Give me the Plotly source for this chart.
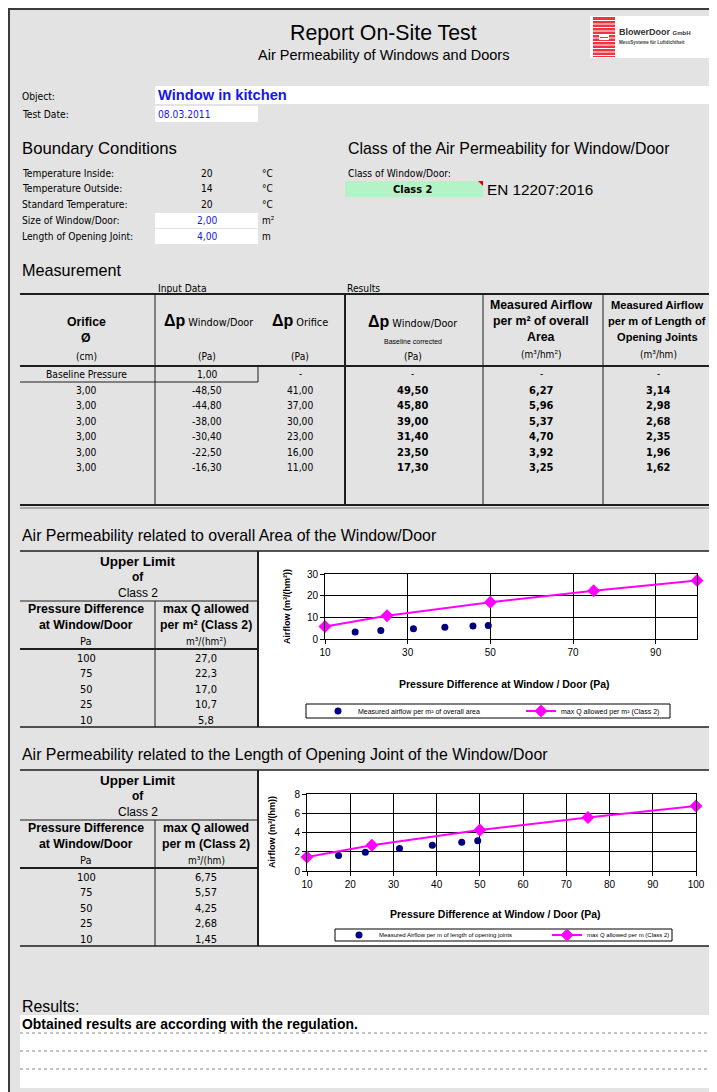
import plotly.graph_objects as go

# reference page size and the page offset of the figure inside the html body
PAGE_W, PAGE_H = 717, 1092
OFF = 8
W, H = PAGE_W - 2 * OFF, PAGE_H - OFF

# ---------------- data ----------------
boundary_labels = ["Temperature Inside:", "Temperature Outside:", "Standard Temperature:",
                   "Size of Window/Door:", "Length of Opening Joint:"]
boundary_values = ["20", "14", "20", "2,00", "4,00"]
boundary_units = ["°C", "°C", "°C", "m²", "m"]

orifice_cm = [3.00, 3.00, 3.00, 3.00, 3.00, 3.00]
dp_window = [-48.50, -44.80, -38.00, -30.40, -22.50, -16.30]
dp_orifice = [41.00, 37.00, 30.00, 23.00, 16.00, 11.00]
dp_corrected = [49.50, 45.80, 39.00, 31.40, 23.50, 17.30]
flow_per_area = [6.27, 5.96, 5.37, 4.70, 3.92, 3.25]
flow_per_length = [3.14, 2.98, 2.68, 2.35, 1.96, 1.62]
baseline_pressure = 1.00

limit_dp = [100, 75, 50, 25, 10]
limit_area = [27.0, 22.3, 17.0, 10.7, 5.8]
limit_length = [6.75, 5.57, 4.25, 2.68, 1.45]

x_ticks_area = [10, 30, 50, 70, 90]
y_ticks_area = [0, 10, 20, 30]
x_ticks_length = [10, 20, 30, 40, 50, 60, 70, 80, 90, 100]
y_ticks_length = [0, 2, 4, 6, 8]

# ---------------- styling helpers ----------------
NARROW = "'Liberation Sans Narrow', 'Arial Narrow', 'DejaVu Sans Condensed', 'Liberation Sans', sans-serif"
ARIAL = "'Liberation Sans', Arial, sans-serif"
NS = 10.2          # narrow text size
HS = 15.9          # heading size
BS = 12.3          # bold table header size
BG = "#e3e3e3"
LINE = "#1e1e1e"
BLUE = "#1515f0"
RIGHT = PAGE_W + 4

shapes = []
annos = []


def X(px):
    return (px - OFF) / W


def Y(py):
    return 1 - (py - OFF) / H


def rect(x0, y0, x1, y1, fill=None, line=None, lw=1, dash="solid"):
    shapes.append(dict(type="rect", xref="paper", yref="paper",
                       x0=X(x0), x1=X(x1), y0=Y(y1), y1=Y(y0),
                       fillcolor=fill if fill else "rgba(0,0,0,0)",
                       line=dict(color=line if line else "rgba(0,0,0,0)",
                                 width=lw if line else 0, dash=dash),
                       layer="below"))


def seg(x0, y0, x1, y1, color=LINE, w=1, dash="solid"):
    shapes.append(dict(type="line", xref="paper", yref="paper",
                       x0=X(x0), x1=X(x1), y0=Y(y0), y1=Y(y1),
                       line=dict(color=color, width=w, dash=dash), layer="below"))


def text(x, y, s, size=NS, font=NARROW, color="#000", anchor="left", bold=False, angle=0):
    annos.append(dict(xref="paper", yref="paper", x=X(x), y=Y(y),
                      text=f"<b>{s}</b>" if bold else s, showarrow=False,
                      xanchor=anchor, yanchor="middle", textangle=angle,
                      borderpad=0,
                      font=dict(size=size, family=font, color=color)))


def fmt(v, d=2):
    return f"{v:.{d}f}".replace(".", ",")


# ---------------- page ----------------
rect(8, 8, RIGHT, PAGE_H + 4, fill=BG)
seg(9, 8, 9, PAGE_H + 4, color="#3a3a3a", w=2)
seg(8, 9, RIGHT, 9, color="#3a3a3a", w=2)

# header
text(383, 33, "Report On-Site Test", size=21.3, font=ARIAL, anchor="center")
text(383, 55, "Air Permeability of Windows and Doors", size=14.5, font=ARIAL, anchor="center")

# logo
rect(590, 16, RIGHT, 58, fill="white")
rect(593, 17, 615, 57, fill="#ef3340")
for i in range(11):
    seg(593, 20.5 + i * 3.5, 615, 20.5 + i * 3.5, color="white", w=1)
rect(599, 35, 609, 40, fill="white")
seg(600, 37.5, 608, 37.5, color="#ef3340", w=1)
text(618, 32, "<b>BlowerDoor</b> <span style='font-size:6px'><b>GmbH</b></span>", size=9,
     font=ARIAL, color="#333")
text(618, 42, "<b>MessSysteme für Luftdichtheit</b>", size=4.5, font=ARIAL, color="#444")

# object / date
rect(155, 86, RIGHT, 104, fill="white")
rect(155, 106, 258, 122, fill="white")
text(21, 96, "Object:")
text(157, 95, "Window in kitchen", size=14.7, font=ARIAL, color=BLUE, bold=True)
text(21, 114, "Test Date:")
text(157, 114, "08.03.2011", color=BLUE)

# boundary conditions
text(21, 148, "Boundary Conditions", size=16.7, font=ARIAL)
rect(155, 213, 258, 228, fill="white")
rect(155, 229, 258, 244, fill="white")
for i, (lab, val, unit) in enumerate(zip(boundary_labels, boundary_values, boundary_units)):
    yy = 173 + i * 15.8
    text(21, yy, lab)
    text(207, yy, val, anchor="center", color=BLUE if i >= 3 else "#000")
    text(261, yy, unit, size=10)

# class
text(347, 148, "Class of the Air Permeability for Window/Door", size=HS, font=ARIAL)
text(347, 173, "Class of Window/Door:")
rect(345, 181, 483, 197, fill="#b3f3c6")
text(413, 189, "Class 2", size=11, anchor="center", bold=True)
shapes.append(dict(type="path", xref="paper", yref="paper",
                   path=f"M {X(478)} {Y(181)} L {X(483)} {Y(181)} L {X(483)} {Y(186)} Z",
                   fillcolor="#e00000", line=dict(width=0), layer="below"))
text(486, 189, "EN 12207:2016", size=15.3, font=ARIAL)

# ---------------- measurement table ----------------
text(21, 270, "Measurement", size=HS + 0.3, font=ARIAL)
text(157, 288, "Input Data")
text(346, 288, "Results")
seg(20, 294, RIGHT, 294, w=2)
seg(20, 366, RIGHT, 366, w=2)
seg(20, 505, RIGHT, 505, w=2)
seg(20, 508, RIGHT, 508, color="#777", w=1)
seg(155, 294, 155, 505, w=1)
seg(345, 294, 345, 505, w=2)
seg(483, 294, 483, 505, w=1)
seg(603, 294, 603, 505, w=1)
seg(20, 382, 258, 382, w=1)
seg(258, 366, 258, 382, w=1)

text(86, 322, "Orifice", size=BS, font=ARIAL, anchor="center", bold=True)
text(86, 338, "Ø", size=BS, font=ARIAL, anchor="center", bold=True)
text(86, 356, "(cm)", anchor="center")
dp = "<b><span style='font-size:16px;font-family:Liberation Sans'>Δp</span></b> "
text(208, 320, dp + "Window/Door", size=10.8, anchor="center")
text(300, 320, dp + "Orifice", size=10.8, anchor="center")
text(207, 356, "(Pa)", anchor="center")
text(300, 356, "(Pa)", anchor="center")
text(413, 322, dp + "Window/Door", size=10.8, anchor="center")
text(413, 341, "Baseline corrected", size=7, font=ARIAL, anchor="center")
text(413, 356, "(Pa)", anchor="center")
for j, s in enumerate(["Measured Airflow", "per m² of overall", "Area"]):
    text(541, 305 + j * 16, s, size=BS, font=ARIAL, anchor="center", bold=True)
text(541, 355, "(m³/hm²)", size=10, anchor="center")
for j, s in enumerate(["Measured Airflow", "per m of Length of", "Opening Joints"]):
    text(657, 305 + j * 16, s, size=11.1, font=ARIAL, anchor="center", bold=True)
text(658, 355, "(m³/hm)", size=10, anchor="center")

text(86, 374, "Baseline Pressure", anchor="center")
text(207, 374, fmt(baseline_pressure), anchor="center")
for cx in (300, 413, 541, 658):
    text(cx, 373, "-", size=10, anchor="center")

for i in range(len(dp_window)):
    yy = 390 + i * 15.5
    text(86, yy, fmt(orifice_cm[i]), anchor="center")
    text(207, yy, fmt(dp_window[i]), anchor="center")
    text(300, yy, fmt(dp_orifice[i]), anchor="center")
    text(413, yy, fmt(dp_corrected[i]), size=11, anchor="center", bold=True)
    text(541, yy, fmt(flow_per_area[i]), size=11, anchor="center", bold=True)
    text(658, yy, fmt(flow_per_length[i]), size=11, anchor="center", bold=True)


# ---------------- limit sections ----------------
def limit_section(top, title, unit_line2, unit_line3, values, dec):
    text(21, top - 16, title, size=HS, font=ARIAL)
    rect(258, top, RIGHT, top + 176, fill="white")
    seg(20, top, RIGHT, top, w=1.5)
    seg(20, top + 176, RIGHT, top + 176, w=1.5)
    seg(258, top, 258, top + 176, w=2)
    seg(20, top + 50, 258, top + 50, w=1)
    seg(20, top + 98, 258, top + 98, w=2)
    seg(155, top + 50, 155, top + 176, w=1)
    text(138, top + 10, "Upper Limit", size=13.5, font=ARIAL, anchor="center", bold=True)
    text(138, top + 26, "of", size=12, font=ARIAL, anchor="center", bold=True)
    text(138, top + 42, "Class 2", size=12, font=ARIAL, anchor="center")
    text(86, top + 58, "Pressure Difference", size=BS, font=ARIAL, anchor="center", bold=True)
    text(86, top + 74, "at Window/Door", size=BS, font=ARIAL, anchor="center", bold=True)
    text(86, top + 90, "Pa", size=11, anchor="center")
    text(206, top + 58, "max Q allowed", size=BS, font=ARIAL, anchor="center", bold=True)
    text(206, top + 74, unit_line2, size=BS, font=ARIAL, anchor="center", bold=True)
    text(206, top + 90, unit_line3, size=10, anchor="center")
    for i, (p, v) in enumerate(zip(limit_dp, values)):
        yy = top + 107 + i * 15.5
        text(86, yy, str(p), size=11, anchor="center")
        text(206, yy, fmt(v, dec), size=11, anchor="center")


limit_section(551, "Air Permeability related to overall Area of the Window/Door",
              "per m² (Class 2)", "m³/(hm²)", limit_area, 1)
limit_section(770, "Air Permeability related to the Length of Opening Joint of the Window/Door",
              "per m (Class 2)", "m³/(hm)", limit_length, 2)

# axis titles
text(504, 684, "Pressure Difference at Window / Door (Pa)", size=10.5, font=ARIAL, anchor="center", bold=True)
text(287, 607, "Airflow (m³/(hm²))", size=9, font=ARIAL, anchor="center", bold=True, angle=-90)
text(495, 914, "Pressure Difference at Window / Door (Pa)", size=10.5, font=ARIAL, anchor="center", bold=True)
text(272, 832, "Airflow (m³/(hm))", size=9, font=ARIAL, anchor="center", bold=True, angle=-90)

# legend boxes
rect(306, 704, 670, 718, fill="white", line="#000", lw=1)
rect(335, 929, 672, 941, fill="white", line="#000", lw=1)

# results
text(21, 1006, "Results:", size=HS, font=ARIAL)
rect(20, 1015, RIGHT, 1088, fill="white")
text(21, 1024, "Obtained results are according with the regulation.", size=13.9, font=ARIAL, bold=True)
for yy in (1033, 1051, 1069):
    seg(20, yy, RIGHT, yy, color="#888", w=1, dash="dot")

# ---------------- charts ----------------
fig = go.Figure()
fig.add_trace(go.Scatter(x=dp_corrected, y=flow_per_area, mode="markers", xaxis="x", yaxis="y",
                         name="Measured airflow per m² of overall area", legend="legend",
                         marker=dict(color="#000080", size=7), cliponaxis=False))
fig.add_trace(go.Scatter(x=limit_dp, y=limit_area, mode="lines+markers", xaxis="x", yaxis="y",
                         name="max Q allowed per m² (Class 2)", legend="legend",
                         line=dict(color="#ff00ff", width=2),
                         marker=dict(symbol="diamond", size=10, color="#ff00ff"), cliponaxis=False))
fig.add_trace(go.Scatter(x=dp_corrected, y=flow_per_length, mode="markers", xaxis="x2", yaxis="y2",
                         name="Measured Airflow per m of length of opening joints", legend="legend2",
                         marker=dict(color="#000080", size=7), cliponaxis=False))
fig.add_trace(go.Scatter(x=limit_dp, y=limit_length, mode="lines+markers", xaxis="x2", yaxis="y2",
                         name="max Q allowed per m (Class 2)", legend="legend2",
                         line=dict(color="#ff00ff", width=2),
                         marker=dict(symbol="diamond", size=10, color="#ff00ff"), cliponaxis=False))

axis_common = dict(showgrid=True, gridcolor="#000", gridwidth=1, showline=True, mirror=True,
                   linecolor="#000", linewidth=1, ticks="outside", ticklen=4, tickcolor="#000",
                   zeroline=False, fixedrange=True,
                   tickfont=dict(size=10, family=ARIAL, color="#000"))

legend_common = dict(orientation="h", xanchor="left", yanchor="middle", bgcolor="rgba(0,0,0,0)",
                     borderwidth=0, entrywidthmode="pixels", itemclick=False)

fig.update_layout(
    width=W, height=H, autosize=False,
    margin=dict(l=0, r=0, t=0, b=0, pad=0, autoexpand=False),
    paper_bgcolor="white", plot_bgcolor="white",
    showlegend=True,
    xaxis=dict(domain=[X(325), X(697)], range=[10, 100], tickvals=x_ticks_area,
               anchor="y", **axis_common),
    yaxis=dict(domain=[Y(639), Y(574)], range=[0, 30], tickvals=y_ticks_area,
               anchor="x", **axis_common),
    xaxis2=dict(domain=[X(307), X(696)], range=[10, 100], tickvals=x_ticks_length,
                anchor="y2", **axis_common),
    yaxis2=dict(domain=[Y(871), Y(794)], range=[0, 8], tickvals=y_ticks_length,
                anchor="x2", **axis_common),
    legend=dict(x=X(318), y=Y(711), entrywidth=158,
                font=dict(size=7, family=ARIAL, color="#000"), **legend_common),
    legend2=dict(x=X(339), y=Y(935), entrywidth=163,
                 font=dict(size=6, family=ARIAL, color="#000"), **legend_common),
    shapes=shapes,
    annotations=annos,
)

fig.write_html("out.html")
